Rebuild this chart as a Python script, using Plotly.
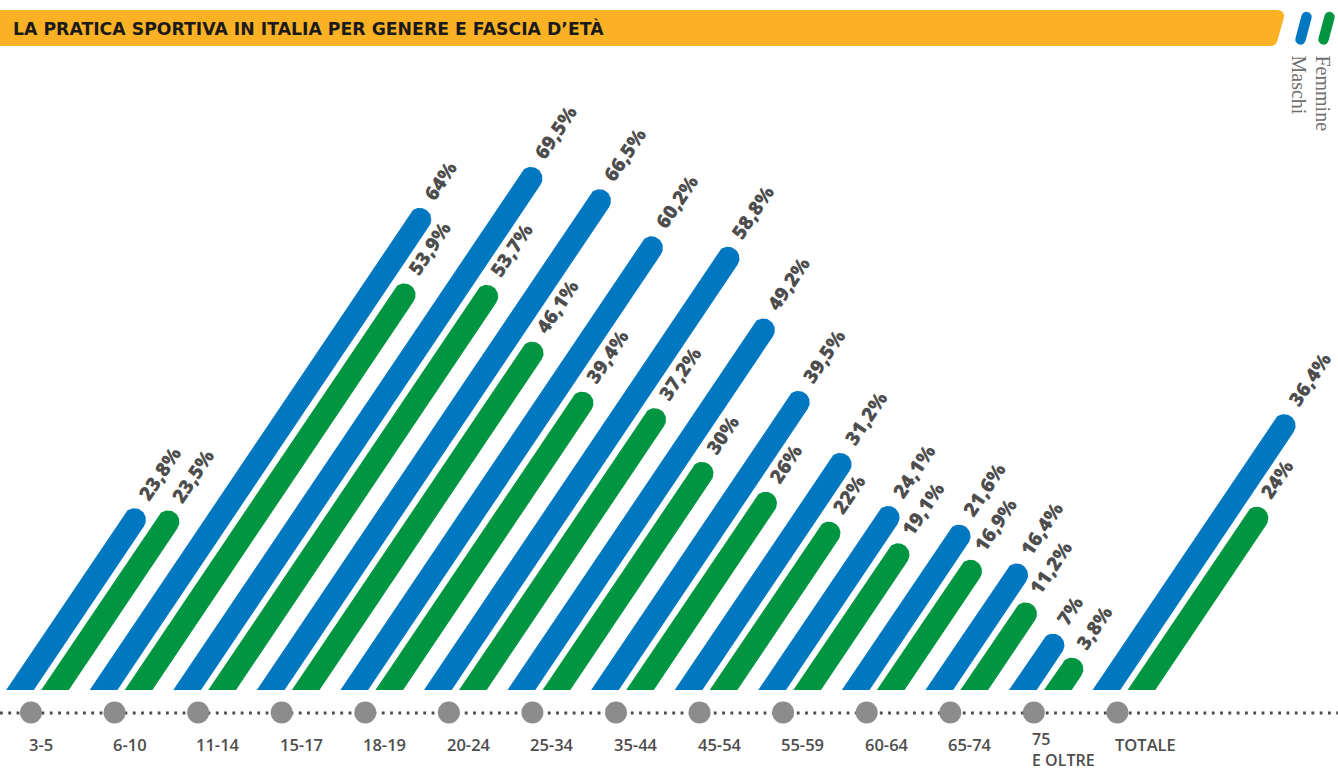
import math
import numpy as np
import plotly.graph_objects as go

# ---------------- data ----------------
categories = ["3-5", "6-10", "11-14", "15-17", "18-19", "20-24", "25-34", "35-44",
              "45-54", "55-59", "60-64", "65-74", "75<br>E OLTRE", "TOTALE"]
maschi = [23.8, 64, 69.5, 66.5, 60.2, 58.8, 49.2, 39.5, 31.2, 24.1, 21.6, 16.4, 7, 36.4]
femmine = [23.5, 53.9, 53.7, 46.1, 39.4, 37.2, 30, 26, 22, 19.1, 16.9, 11.2, 3.8, 24]
series_names = ["Maschi", "Femmine"]
title_text = "LA PRATICA SPORTIVA IN ITALIA PER GENERE E FASCIA D\u2019ET\u00c0"

# ---------------- styles / geometry ----------------
W, H = 1338, 773
BLUE, GREEN, ORANGE = "#0077C1", "#009641", "#FBB124"
GRAY_DOT, TXT = "#8C8C8C", "#4D4D4D"
X0, DX = 31.0, 83.57          # pixel of first category, spacing
Y0, KY = 697.5, 7.47          # pixel of value 0, pixels per percent
BASE_PY = 690.0               # flat bottom of bars
SLOPE = 0.672                 # dx/dy of the slanted bars
THETA = math.atan2(1.0, SLOPE)
R = 11.5                      # half bar thickness
OFFSETS = [-11.0, 24.0]       # bar base offset from category centre
COLORS = [BLUE, GREEN]
FONT = "Open Sans"

x_range = [-X0 / DX, (W - X0) / DX]
y_range = [(Y0 - H) / KY, Y0 / KY]


def to_x(px):
    return (px - X0) / DX


def to_y(py):
    return (Y0 - py) / KY


def px_of(i):
    return X0 + DX * i


def py_of(v):
    return Y0 - KY * v


u = np.array([math.cos(THETA), -math.sin(THETA)])
n = np.array([math.sin(THETA), math.cos(THETA)])


def bar_polygon(bx, cy):
    cx = bx + SLOPE * (BASE_PY - cy)
    p1 = np.array([cx, cy])
    hw = R / math.sin(THETA)
    pts = [(bx - hw, BASE_PY)]
    for t in np.linspace(0, math.pi, 40):
        p = p1 + R * (-math.cos(t) * n + math.sin(t) * u)
        pts.append((p[0], p[1]))
    pts.append((bx + hw, BASE_PY))
    pts.append((bx - hw, BASE_PY))
    xs = [to_x(p[0]) for p in pts]
    ys = [to_y(p[1]) for p in pts]
    return xs, ys, p1


def fmt(v):
    return ("%g" % v).replace(".", ",") + "%"


fig = go.Figure()
annotations = []

for s_idx, vals in enumerate([maschi, femmine]):
    for i, v in enumerate(vals):
        bx = px_of(i) + OFFSETS[s_idx]
        xs, ys, p1 = bar_polygon(bx, py_of(v))
        fig.add_trace(go.Scatter(
            x=xs, y=ys, mode="lines", fill="toself",
            fillcolor=COLORS[s_idx], line=dict(width=0, color=COLORS[s_idx]),
            hoverinfo="skip", showlegend=False, name=series_names[s_idx]))
        # value label along the bar
        fs = 19.5
        hbox = 27.0
        bl = p1 + 21.0 * u + 8.0 * n
        ax_px = bl[0] - hbox * math.sin(THETA)
        annotations.append(dict(
            x=to_x(ax_px), y=to_y(bl[1]), xref="x", yref="y",
            text=fmt(v), showarrow=False,
            textangle=-math.degrees(THETA), xanchor="left", yanchor="bottom",
            font=dict(family=FONT, size=fs, color=TXT, weight=800), borderpad=0))

# baseline dotted line and category dots
fig.add_shape(type="line", xref="paper", yref="y", x0=0, x1=1,
              y0=to_y(713), y1=to_y(713),
              line=dict(color="#4A4A4A", width=2.8, dash="2.8px,5.5px"), layer="below")
fig.add_trace(go.Scatter(
    x=list(range(len(categories))), y=[to_y(712.5)] * len(categories),
    mode="markers", marker=dict(size=22, color=GRAY_DOT, line=dict(width=0)),
    hoverinfo="skip", showlegend=False))

for i, c in enumerate(categories):
    if "<br>" in c:
        annotations.append(dict(
            x=to_x(px_of(i) - 4), y=to_y(773), xref="x", yref="y",
            text=c, showarrow=False, xanchor="left", yanchor="bottom", align="left",
            font=dict(family=FONT, size=16, color=TXT, weight=600)))
    else:
        annotations.append(dict(
            x=to_x(px_of(i) - 4), y=to_y(744.5), xref="x", yref="y",
            text=c, showarrow=False, xanchor="left", yanchor="middle", align="left",
            font=dict(family=FONT, size=16.5, color=TXT, weight=600)))

# title band
def P(px, py):
    return "%.5f %.5f" % (px / W, 1 - py / H)

path = ("M " + P(0, 10) + " L " + P(1276, 10) + " Q " + P(1286, 10) + " " + P(1283.5, 19)
        + " L " + P(1277.5, 40.5) + " Q " + P(1276, 46) + " " + P(1270, 46)
        + " L " + P(0, 46) + " Z")
fig.add_shape(type="path", xref="paper", yref="paper", path=path,
              fillcolor=ORANGE, line=dict(width=0))
annotations.append(dict(
    x=11 / W, y=1 - 28.5 / H, xref="paper", yref="paper", text=title_text,
    showarrow=False, xanchor="left", yanchor="middle",
    font=dict(family="DejaVu Sans", size=17.3, color="#1A1A1A", weight=700)))

# legend capsules
def capsule(p_bot, p_top, r):
    a = np.array(p_bot, float)
    b = np.array(p_top, float)
    d = (b - a) / np.linalg.norm(b - a)
    m = np.array([-d[1], d[0]])
    pts = []
    for t in np.linspace(0, math.pi, 20):
        p = b + r * (-math.cos(t) * m + math.sin(t) * d)
        pts.append(p)
    for t in np.linspace(0, math.pi, 20):
        p = a + r * (math.cos(t) * m - math.sin(t) * d)
        pts.append(p)
    pts.append(pts[0])
    return [to_x(p[0]) for p in pts], [to_y(p[1]) for p in pts]


legend_pos = [((1300.5, 39.5), (1306.5, 17.0)), ((1323.5, 39.5), (1329.5, 17.0))]
legend_text_x = [1299.0, 1322.5]
for k, (pb, pt) in enumerate(legend_pos):
    xs, ys = capsule(pb, pt, 5.2)
    fig.add_trace(go.Scatter(x=xs, y=ys, mode="lines", fill="toself",
                             fillcolor=COLORS[k], line=dict(width=0, color=COLORS[k]),
                             hoverinfo="skip", showlegend=False))
    annotations.append(dict(
        x=legend_text_x[k] / W, y=1 - 53 / H, xref="paper", yref="paper",
        text=series_names[k], showarrow=False, textangle=90,
        xanchor="center", yanchor="top",
        font=dict(family="Liberation Serif", size=20, color="#707070")))

fig.update_layout(
    width=W, height=H, margin=dict(l=0, r=0, t=0, b=0),
    paper_bgcolor="white", plot_bgcolor="white",
    xaxis=dict(range=x_range, visible=False, fixedrange=True),
    yaxis=dict(range=y_range, visible=False, fixedrange=True),
    annotations=annotations, showlegend=False)

fig.write_html("out.html", config={"displayModeBar": False},
               post_script="document.body.style.margin='0px';")
